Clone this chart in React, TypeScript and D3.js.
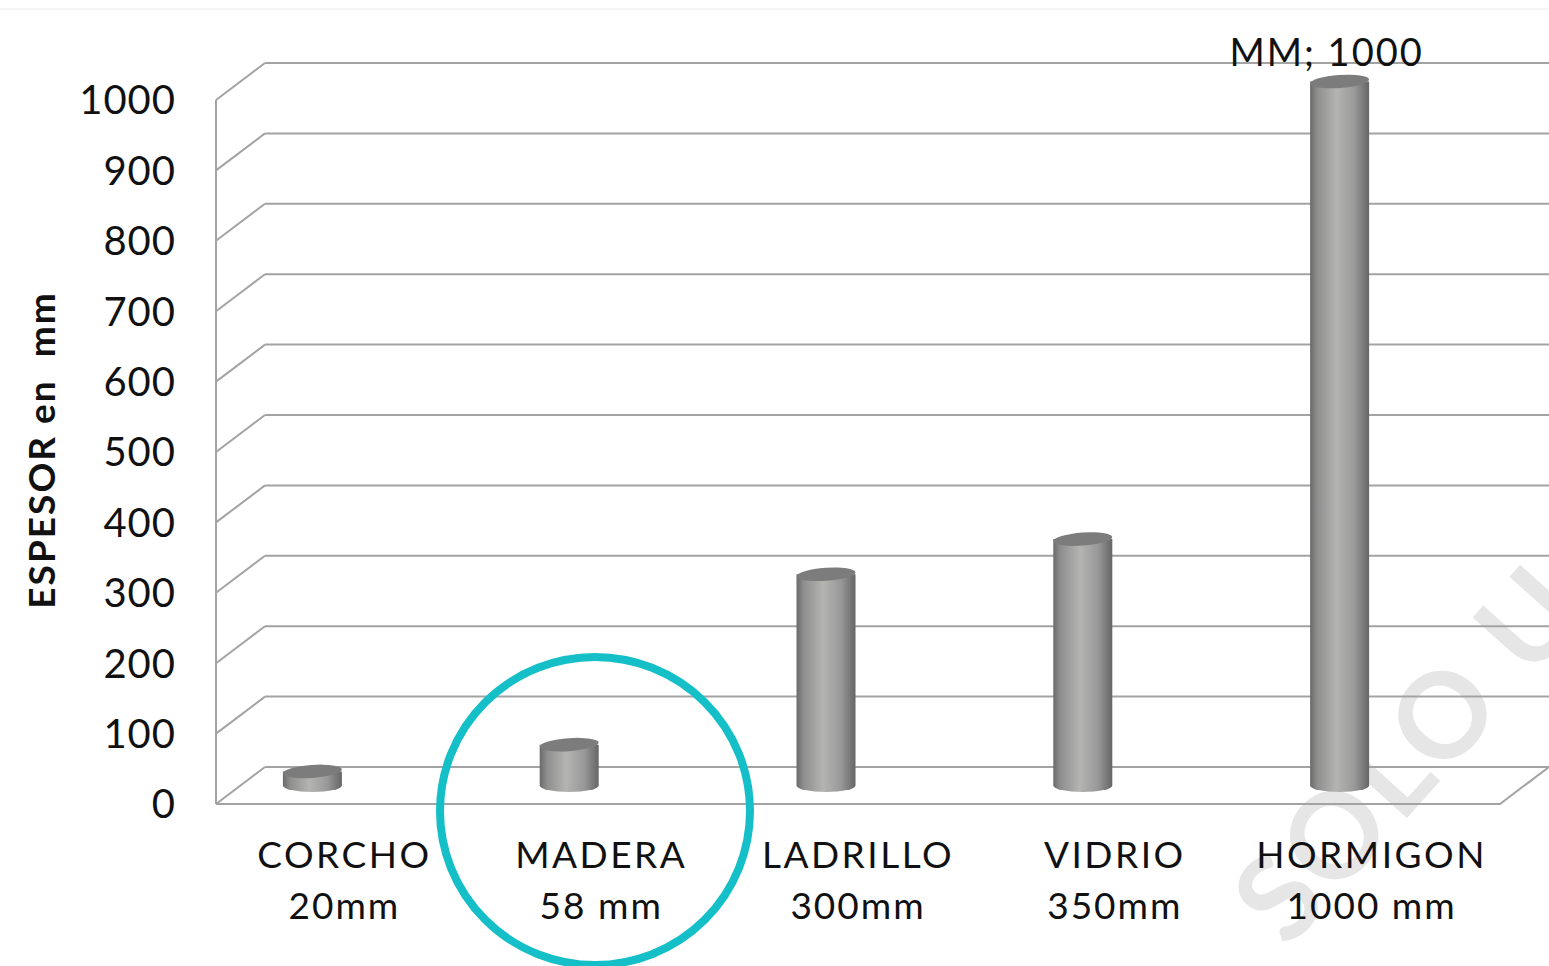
import React from "react";
import * as d3 from "d3";

const categories = ["CORCHO", "MADERA", "LADRILLO", "VIDRIO", "HORMIGON"];
const subLabels = ["20mm", "58 mm", "300mm", "350mm", "1000 mm"];
const values = [20, 58, 300, 350, 1000];
const yTicks = [0, 100, 200, 300, 400, 500, 600, 700, 800, 900, 1000];
const yTitle = "ESPESOR en  mm";
const topLabel = "MM; 1000";
const watermark = "SOLO U";

const W = 1549;
const H = 966;
const DX = 49;
const DY = -37;
const FONT = "Lato, 'Open Sans', sans-serif";

export default function App() {
  const yFront = d3.scaleLinear().domain([0, 1000]).range([804, 100]);
  const yMid = (v: number) => yFront(v) + DY / 2;
  const x = d3.scaleBand().domain(categories).range([216, 1500]);
  const cx = (c: string) => (x(c) as number) + x.bandwidth() / 2;
  const cylOffset = -32;
  const r = 29.5;
  const ry = 6.5;
  const grid = "#a3a3a3";

  return (
    <svg width={W} height={H} style={{ position: "absolute", left: 0, top: 0, background: "#fff" }}>
      <defs>
        <linearGradient id="cyl" x1="0" x2="1" y1="0" y2="0">
          <stop offset="0" stopColor="#6a6a6a" />
          <stop offset="0.12" stopColor="#8e8e8e" />
          <stop offset="0.45" stopColor="#b4b4b2" />
          <stop offset="0.75" stopColor="#999999" />
          <stop offset="0.93" stopColor="#747474" />
          <stop offset="1" stopColor="#666666" />
        </linearGradient>
      </defs>
      <line x1={0} x2={W} y1={9} y2={9} stroke="#f2f2f2" strokeWidth={1.5} />
      {/* watermark */}
      <text
        x={1288}
        y={950}
        transform="rotate(-48 1288 950)"
        fontFamily={FONT}
        fontWeight={700}
        fontSize={118}
        fill="#e6e6e6"
        letterSpacing={4}
      >
        {watermark}
      </text>
      {/* gridlines: back wall + left wall diagonals */}
      {yTicks.map((t) => (
        <g key={t}>
          <line x1={216} y1={yFront(t)} x2={216 + DX} y2={yFront(t) + DY} stroke={grid} strokeWidth={2} />
          <line x1={216 + DX} y1={yFront(t) + DY} x2={W} y2={yFront(t) + DY} stroke={grid} strokeWidth={2} />
        </g>
      ))}
      {/* front vertical axis */}
      <line x1={216} x2={216} y1={yFront(1000)} y2={yFront(0)} stroke={grid} strokeWidth={2} />
      {/* floor front edge */}
      <polyline
        points={`216,${yFront(0)} 1500,${yFront(0)} ${1500 + DX},${yFront(0) + DY}`}
        fill="none"
        stroke={grid}
        strokeWidth={2}
      />
      {/* y tick labels */}
      {yTicks.map((t) => (
        <text
          key={"l" + t}
          x={176}
          y={yFront(t)}
          dy="0.36em"
          textAnchor="end"
          fontFamily={FONT}
          fontSize={40}
          letterSpacing={1}
          fill="#111"
        >
          {t}
        </text>
      ))}
      {/* y title */}
      <text
        transform={`translate(55 ${450}) rotate(-90)`}
        textAnchor="middle"
        fontFamily={FONT}
        fontWeight={700}
        fontSize={37}
        letterSpacing={2}
        fill="#111"
        style={{ whiteSpace: "pre" }}
      >
        {yTitle}
      </text>
      {/* cylinders */}
      {categories.map((c, i) => {
        const xc = cx(c) + cylOffset;
        const yb = yMid(0);
        const yt = yMid(values[i]);
        const d = `M${xc - r},${yt} L${xc - r},${yb} A${r},${ry} 0 0 0 ${xc + r},${yb} L${xc + r},${yt} Z`;
        return (
          <g key={c}>
            <path d={d} fill="url(#cyl)" />
            <ellipse
              cx={xc}
              cy={yt}
              rx={r}
              ry={ry}
              fill="#7c7c7c"
              transform={`rotate(-4 ${xc} ${yt})`}
            />
          </g>
        );
      })}
      {/* category labels */}
      {categories.map((c, i) => (
        <g key={"c" + c}>
          <text x={cx(c)} y={868} textAnchor="middle" fontFamily={FONT} fontSize={37} letterSpacing={2.5} fill="#111">
            {c}
          </text>
          <text x={cx(c)} y={919} textAnchor="middle" fontFamily={FONT} fontSize={37} letterSpacing={2} fill="#111">
            {subLabels[i]}
          </text>
        </g>
      ))}
      {/* data label */}
      <text
        x={cx(categories[4]) - 45}
        y={66}
        textAnchor="middle"
        fontFamily={FONT}
        fontSize={38}
        letterSpacing={2}
        fill="#111"
      >
        {topLabel}
      </text>
      {/* highlight circle */}
      <ellipse cx={595} cy={811} rx={155} ry={154} fill="none" stroke="#14bfc7" strokeWidth={8} />
    </svg>
  );
}
